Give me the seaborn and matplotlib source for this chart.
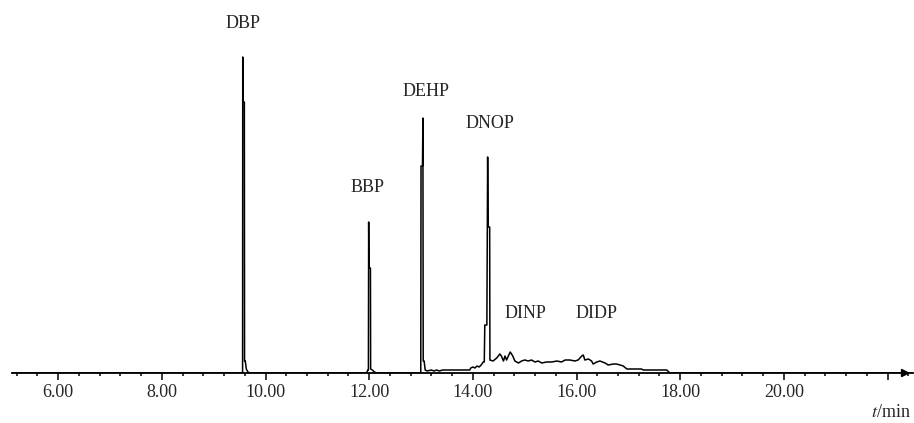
import matplotlib
matplotlib.use("Agg")
import matplotlib.pyplot as plt
import numpy as np
import pandas as pd
import seaborn as sns

# retention time (min) and detector response (arbitrary units)
time = [
    5.11, 9.54, 9.558, 9.561, 9.566, 9.592, 9.596, 9.61, 9.63, 9.66, 9.70,
    11.95, 11.975, 11.985, 11.99, 11.995, 12.024, 12.028, 12.06, 12.10, 12.15,
    12.95, 12.995, 13.00, 13.028, 13.036, 13.042, 13.06, 13.08, 13.12, 13.20,
    13.25, 13.30, 13.35, 13.42, 13.90, 13.94, 13.96, 14.00, 14.04, 14.08,
    14.12, 14.16, 14.20, 14.22, 14.23, 14.27, 14.285, 14.295, 14.324, 14.329,
    14.39, 14.46, 14.52, 14.55, 14.59, 14.62, 14.65, 14.72, 14.77, 14.81,
    14.88, 14.94, 15.00, 15.07, 15.13, 15.20, 15.26, 15.33, 15.42, 15.52,
    15.62, 15.71, 15.78, 15.87, 15.97, 16.03, 16.10, 16.13, 16.16, 16.23,
    16.29, 16.32, 16.39, 16.45, 16.55, 16.61, 16.71, 16.77, 16.84, 16.90,
    16.97, 17.25, 17.29, 17.74, 17.80, 22.49,
]
signal = [
    0, 0, 0, 316, 271, 271, 12, 12, 4, 1, 0,
    0, 3, 3, 151, 105, 105, 4, 3, 1, 0,
    0, 0, 207, 207, 255, 12, 12, 3, 2, 3,
    2, 3, 2, 3, 3, 3, 5, 6, 5, 7,
    6, 8, 11, 11, 48, 48, 216, 146, 146, 13,
    12, 15, 19, 17, 12, 17, 13, 21, 17, 12,
    10, 12, 13, 12, 13, 11, 12, 10, 11, 11,
    12, 11, 13, 13, 12, 13, 17, 18, 13, 14,
    12, 9, 11, 12, 10, 8, 9, 9, 8, 7,
    4, 4, 3, 3, 0, 0,
]

peak_names = ["DBP", "BBP", "DEHP", "DNOP", "DINP", "DIDP"]
label_x = [9.567, 11.96, 13.10, 14.33, 15.02, 16.39]
label_y = [349, 186, 282, 250, 60, 60]

major_ticks = [6, 8, 10, 12, 14, 16, 18, 20, 22]
major_labels = ["6.00", "8.00", "10.00", "12.00", "14.00", "16.00", "18.00", "20.00", ""]

df = pd.DataFrame({"t": time, "signal": signal})

sns.set_theme(style="white")
plt.rcParams["font.family"] = ["Liberation Serif", "DejaVu Serif"]
plt.rcParams["mathtext.fontset"] = "stix"

fig = plt.figure(figsize=(9.14, 4.23), dpi=100)
ax = fig.add_axes([12 / 914, 50 / 423, 901 / 914, 373 / 423])

sns.lineplot(data=df, x="t", y="signal", ax=ax, color="black",
             linewidth=1.1, estimator=None, sort=False)

for name, x, y in zip(peak_names, label_x, label_y):
    ax.text(x, y, name, ha="center", va="center", fontsize=13)

ax.set_xlim(5.11, 22.49)
ax.set_ylim(0, 373)
ax.set_xlabel("")
ax.set_ylabel("")
ax.set_yticks([])
ax.set_xticks(major_ticks)
ax.set_xticklabels(major_labels, fontsize=13)
ax.set_xticks(np.arange(5.2, 22.45, 0.4), minor=True)
ax.tick_params(axis="x", which="major", direction="out", length=5, width=1.1,
               color="black", pad=3, bottom=True)
ax.tick_params(axis="x", which="minor", direction="out", length=2.5, width=1.1,
               color="black", bottom=True)

for side in ["top", "left", "right"]:
    ax.spines[side].set_visible(False)
ax.spines["bottom"].set_color("black")
ax.spines["bottom"].set_linewidth(1.3)

ax.annotate("", xy=(1.0, 0), xytext=(0.985, 0), xycoords="axes fraction",
            arrowprops=dict(arrowstyle="-|>", color="black", lw=1.2,
                            mutation_scale=12), annotation_clip=False)

fig.text(0.996, 1 - 412 / 423, "$t$/min", ha="right", va="center", fontsize=13)

fig.savefig("out.png", dpi=100)
